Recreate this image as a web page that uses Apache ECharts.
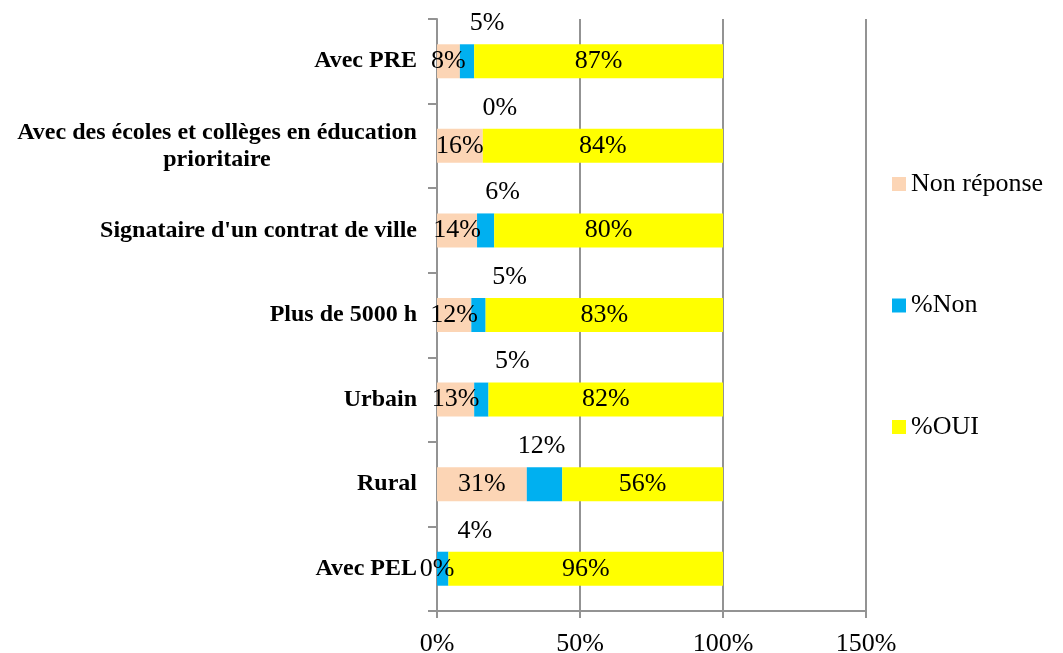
<!DOCTYPE html>
<html>
<head>
<meta charset="utf-8">
<script src="https://cdn.jsdelivr.net/npm/echarts@6/dist/echarts.min.js"></script>
<style>
  html, body { margin: 0; padding: 0; background: #fff; }
  #chart { width: 1063px; height: 653px; }
</style>
</head>
<body>
<div id="chart"></div>
<script>
// categories listed top to bottom
const categories = [
  "Avec PRE",
  "Avec des écoles et collèges en éducation\nprioritaire",
  "Signataire d'un contrat de ville",
  "Plus de 5000 h",
  "Urbain",
  "Rural",
  "Avec PEL"
];
const nonReponse = [8, 16, 14, 12, 13, 31.4, 0];
const pctNon = [5, 0, 6, 5, 5, 12.4, 4];
const pctOui = [87, 84, 80, 83, 82, 56.2, 96];
const xTicks = [0, 50, 100, 150];

// Excel placed the %Non labels a bit right of their segment
const nonLabelShift = [20, 17, 17, 31, 31, -3, 32];

const serif = "'Liberation Serif', 'Times New Roman', serif";
const gridColor = "#939393";

const chart = echarts.init(document.getElementById("chart"), null, { renderer: "canvas" });

const pct = p => Math.round(p.value) + "%";

const option = {
  backgroundColor: "#fff",
  animation: false,
  textStyle: { fontFamily: serif, color: "#000" },
  grid: { left: 437, right: 197, top: 19, bottom: 42, outerBoundsMode: "none" },
  legend: {
    orient: "vertical",
    left: 892,
    top: 171,
    padding: 0,
    itemWidth: 14,
    itemHeight: 14,
    itemGap: 95.5,
    icon: "rect",
    textStyle: { fontFamily: serif, fontSize: 26, color: "#000" },
    data: ["Non réponse", "%Non", "%OUI"]
  },
  xAxis: {
    type: "value",
    min: xTicks[0],
    max: xTicks[xTicks.length - 1],
    interval: 50,
    axisLine: { show: true, lineStyle: { color: gridColor, width: 2 } },
    axisTick: { show: true, length: 7, lineStyle: { color: gridColor, width: 2 } },
    splitLine: { show: true, lineStyle: { color: gridColor, width: 2 } },
    axisLabel: {
      margin: 20,
      fontFamily: serif,
      fontSize: 26,
      color: "#000",
      formatter: v => v + "%"
    }
  },
  yAxis: {
    type: "category",
    inverse: true,
    data: categories,
    axisLine: { show: true, lineStyle: { color: gridColor, width: 2 } },
    axisTick: { show: true, length: 9, alignWithLabel: false, lineStyle: { color: gridColor, width: 2 } },
    axisLabel: {
      margin: 20,
      fontFamily: serif,
      fontSize: 24,
      fontWeight: "bold",
      color: "#000",
      formatter: v => {
        if (v.indexOf("\n") < 0) return v;
        return v.split("\n").map(s => "{m|" + s + "}").join("\n");
      },
      rich: {
        m: {
          width: 400,
          align: "center",
          lineHeight: 27,
          fontFamily: serif,
          fontSize: 24,
          fontWeight: "bold",
          color: "#000"
        }
      }
    }
  },
  series: [
    {
      name: "Non réponse",
      type: "bar",
      stack: "total",
      barWidth: 34,
      itemStyle: { color: "#FCD5B5" },
      label: {
        show: true,
        position: "inside",
        fontFamily: serif,
        fontSize: 26,
        color: "#000",
        formatter: pct
      },
      data: nonReponse
    },
    {
      name: "%Non",
      type: "bar",
      stack: "total",
      barWidth: 34,
      itemStyle: { color: "#00B0F0" },
      data: pctNon.map((v, i) => ({
        value: v,
        label: {
          show: true,
          position: "top",
          distance: 8,
          offset: [nonLabelShift[i], 0],
          fontFamily: serif,
          fontSize: 26,
          color: "#000",
          formatter: pct
        }
      }))
    },
    {
      name: "%OUI",
      type: "bar",
      stack: "total",
      barWidth: 34,
      itemStyle: { color: "#FFFF00" },
      label: {
        show: true,
        position: "inside",
        fontFamily: serif,
        fontSize: 26,
        color: "#000",
        formatter: pct
      },
      data: pctOui
    }
  ]
};

chart.setOption(option);
</script>
</body>
</html>
